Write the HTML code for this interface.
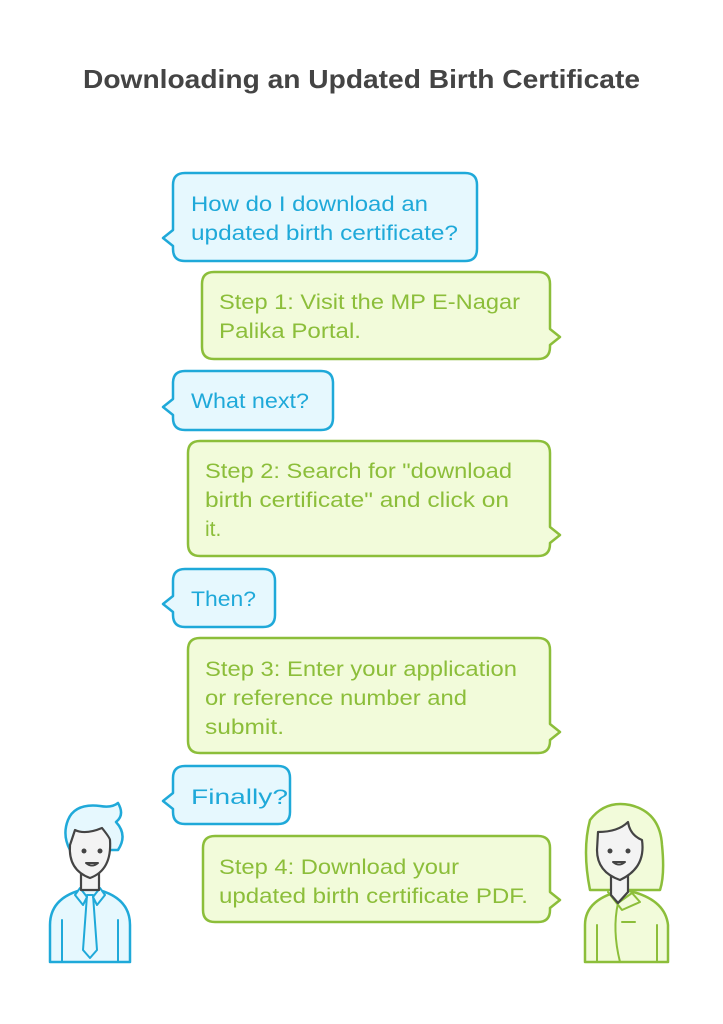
<!DOCTYPE html>
<html><head><meta charset="utf-8"><style>
html,body{margin:0;padding:0;background:#fff;}
svg{display:block;font-family:"Liberation Sans",Arial,sans-serif;}
.b{fill:#e6f8fe;stroke:#1fa9d9;stroke-width:2.5;stroke-linejoin:round}
.g{fill:#f2fbda;stroke:#8cbe3a;stroke-width:2.5;stroke-linejoin:round}
.bt{fill:#1fa9d9;font-size:21px}
.gt{fill:#8cbe3a;font-size:21px}
</style></head><body>
<svg width="723" height="1024" viewBox="0 0 723 1024">
<rect width="723" height="1024" fill="#fff"/>
<text x="361.5" y="88" text-anchor="middle" font-size="26" font-weight="bold" fill="#444" textLength="557" lengthAdjust="spacingAndGlyphs">Downloading an Updated Birth Certificate</text>

<!-- blue 1 -->
<path class="b" d="M185,173 H465 Q477,173 477,185 V249 Q477,261 465,261 H185 Q173,261 173,249 V246 L163,238 L173,230 V185 Q173,173 185,173 Z"/>
<text class="bt" x="191" y="211" textLength="237" lengthAdjust="spacingAndGlyphs">How do I download an</text>
<text class="bt" x="191" y="240" textLength="267" lengthAdjust="spacingAndGlyphs">updated birth certificate?</text>

<!-- green 1 -->
<path class="g" d="M214,272 H538 Q550,272 550,284 V329 L560,337 L550,345 V347 Q550,359 538,359 H214 Q202,359 202,347 V284 Q202,272 214,272 Z"/>
<text class="gt" x="219" y="309" textLength="301" lengthAdjust="spacingAndGlyphs">Step 1: Visit the MP E-Nagar</text>
<text class="gt" x="219" y="338" textLength="142" lengthAdjust="spacingAndGlyphs">Palika Portal.</text>

<!-- blue 2 -->
<path class="b" d="M185,371 H321 Q333,371 333,383 V418 Q333,430 321,430 H185 Q173,430 173,418 V415 L163,407 L173,399 V383 Q173,371 185,371 Z"/>
<text class="bt" x="191" y="408" textLength="118" lengthAdjust="spacingAndGlyphs">What next?</text>

<!-- green 2 -->
<path class="g" d="M200,441 H538 Q550,441 550,453 V527 L560,535 L550,543 V544 Q550,556 538,556 H200 Q188,556 188,544 V453 Q188,441 200,441 Z"/>
<text class="gt" x="205" y="478" textLength="307" lengthAdjust="spacingAndGlyphs">Step 2: Search for "download</text>
<text class="gt" x="205" y="507" textLength="304" lengthAdjust="spacingAndGlyphs">birth certificate" and click on</text>
<text class="gt" x="205" y="536">it.</text>

<!-- blue 3 -->
<path class="b" d="M185,569 H263 Q275,569 275,581 V615 Q275,627 263,627 H185 Q173,627 173,615 V612 L163,604 L173,596 V581 Q173,569 185,569 Z"/>
<text class="bt" x="191" y="606" textLength="65" lengthAdjust="spacingAndGlyphs">Then?</text>

<!-- green 3 -->
<path class="g" d="M200,638 H538 Q550,638 550,650 V724 L560,732 L550,740 V741 Q550,753 538,753 H200 Q188,753 188,741 V650 Q188,638 200,638 Z"/>
<text class="gt" x="205" y="676" textLength="312" lengthAdjust="spacingAndGlyphs">Step 3: Enter your application</text>
<text class="gt" x="205" y="705" textLength="262" lengthAdjust="spacingAndGlyphs">or reference number and</text>
<text class="gt" x="205" y="734" textLength="79" lengthAdjust="spacingAndGlyphs">submit.</text>

<!-- blue 4 -->
<path class="b" d="M185,766 H278 Q290,766 290,778 V812 Q290,824 278,824 H185 Q173,824 173,812 V809 L163,801 L173,793 V778 Q173,766 185,766 Z"/>
<text class="bt" x="191" y="804" textLength="97" lengthAdjust="spacingAndGlyphs">Finally?</text>

<!-- green 4 -->
<path class="g" d="M215,836 H538 Q550,836 550,848 V892 L560,900 L550,908 V910 Q550,922 538,922 H215 Q203,922 203,910 V848 Q203,836 215,836 Z"/>
<text class="gt" x="219" y="874" textLength="240" lengthAdjust="spacingAndGlyphs">Step 4: Download your</text>
<text class="gt" x="219" y="903" textLength="309" lengthAdjust="spacingAndGlyphs">updated birth certificate PDF.</text>

<!-- man -->
<g stroke-linejoin="round" stroke-linecap="round">
 <path d="M50,962 V925 Q50,895 90,888 Q130,895 130,925 V962 Z" fill="#e6f8fe" stroke="#1fa9d9" stroke-width="2.5"/>
 <line x1="62" y1="920" x2="62" y2="962" stroke="#1fa9d9" stroke-width="2"/>
 <line x1="118" y1="920" x2="118" y2="962" stroke="#1fa9d9" stroke-width="2"/>
 <path d="M87,895 L93,895 L97,950 L90,958 L83,950 Z" fill="#e6f8fe" stroke="#1fa9d9" stroke-width="2"/>
 <path d="M80,888 L87,897 L83,905 L75,895 Z M100,888 L93,897 L97,905 L105,895 Z" fill="#e6f8fe" stroke="#1fa9d9" stroke-width="2"/>
 <rect x="81" y="872" width="18" height="18" fill="#f3f3f3" stroke="#444" stroke-width="2.2"/>
 <path d="M68,820 Q75,803 100,806 Q112,808 118,803 Q125,815 116,822 Q128,835 118,850 L70,850 Q62,835 68,820 Z" fill="#e6f8fe" stroke="#1fa9d9" stroke-width="2.5"/>
 <path d="M75,830 Q85,835 102,828 Q110,838 110,840 Q112,870 90,878 Q68,870 70,845 Z" fill="#f3f3f3" stroke="#444" stroke-width="2.2"/>
 <circle cx="84" cy="851" r="2.5" fill="#444"/><circle cx="100" cy="851" r="2.5" fill="#444"/>
 <path d="M86,863 Q92,868 98,863 Z" fill="#fff" stroke="#444" stroke-width="2"/>
</g>

<!-- woman -->
<g stroke-linejoin="round" stroke-linecap="round">
 <path d="M590,890 Q582,850 590,820 Q605,800 630,805 Q660,812 662,845 Q665,875 660,890 Z" fill="#f2fbda" stroke="#8cbe3a" stroke-width="2.5"/>
 <path d="M585,962 V925 Q585,898 625,890 Q665,898 668,925 V962 Z" fill="#f2fbda" stroke="#8cbe3a" stroke-width="2.5"/>
 <line x1="597" y1="925" x2="597" y2="962" stroke="#8cbe3a" stroke-width="2"/>
 <line x1="657" y1="925" x2="657" y2="962" stroke="#8cbe3a" stroke-width="2"/>
 <line x1="622" y1="922" x2="635" y2="922" stroke="#8cbe3a" stroke-width="2"/>
 <path d="M618,903 Q612,930 620,962" fill="none" stroke="#8cbe3a" stroke-width="2"/>
 <path d="M608,892 L618,903 L632,893 L640,902 L622,910 Z" fill="#f2fbda" stroke="#8cbe3a" stroke-width="2"/>
 <path d="M611,872 V895 L618,903 L628,892 V872 Z" fill="#f3f3f3" stroke="#444" stroke-width="2.2"/>
 <path d="M598,832 Q618,832 628,822 Q630,835 642,840 Q646,868 620,880 Q597,872 597,850 Z" fill="#f3f3f3" stroke="#444" stroke-width="2.2"/>
 <circle cx="610" cy="851" r="2.5" fill="#444"/><circle cx="628" cy="851" r="2.5" fill="#444"/>
 <path d="M613,862 Q619,867 625,862 Z" fill="#fff" stroke="#444" stroke-width="2"/>
</g>
</svg>
</body></html>
